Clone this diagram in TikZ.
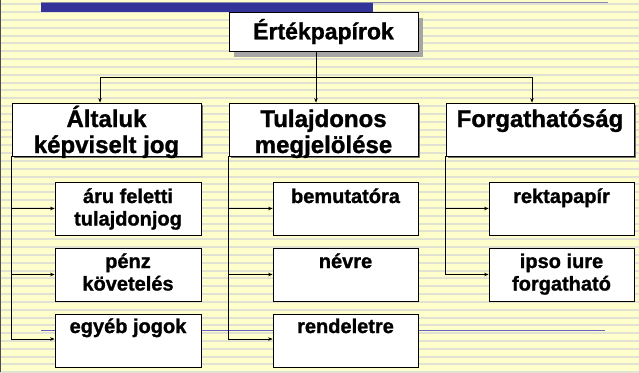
\documentclass[tikz,border=0pt]{standalone}
\usepackage{fontspec}
\setmainfont{Liberation Sans}[BoldFeatures={FakeBold=1.2}]
\usepackage{tikz}
\usetikzlibrary{arrows.meta,shadows,calc}

\definecolor{paper}{RGB}{255,255,204}
\definecolor{stripe}{RGB}{226,226,212}
\definecolor{barblue}{RGB}{51,51,153}
\definecolor{lineblue}{RGB}{100,100,190}
\definecolor{thinblue}{RGB}{140,140,175}

% text inside a box: centred, hanging from the top
\newcommand{\toptext}[4]{\parbox[c][#1][t]{#2}{\centering\rule{0pt}{#3}#4}}

\begin{document}
\begin{tikzpicture}[
                    x=1pt, y=-1pt,
                    every node/.style={
                        draw=black,
                        fill=white,
                        rectangle,
                        inner sep=0pt,
                        line width=0.8pt,
                        font=\bfseries
                    },
                    headbox/.style={
                        minimum width=189pt,
                        minimum height=39pt,
                        font=\fontsize{23}{26}\selectfont\bfseries,
                        general shadow={fill=black!35, shadow xshift=5pt, shadow yshift=-6pt}
                    },
                    groupbox/.style={
                        general shadow={fill=black!55, shadow xshift=1.6pt, shadow yshift=-1.6pt},
                        font=\fontsize{24}{26}\selectfont\bfseries
                    },
                    itembox/.style={
                        general shadow={fill=black!45, shadow xshift=1.2pt, shadow yshift=-1.2pt},
                        font=\fontsize{20}{22.5}\selectfont\bfseries
                    },
                    conn/.style={draw=black, line width=0.6pt},
                    arr/.style={conn, -{Stealth[length=4.5pt,width=3.5pt]}}
                ]

                    % Background
                    \useasboundingbox (0,0) rectangle (639,372);
                    \fill[paper] (0,0) rectangle (639,372);
                    \foreach \k in {0,...,47}
                        \fill[stripe] (0,{3.3+7.83*\k}) rectangle (639,{5.3+7.83*\k});
                    \draw[black!70, line width=1.2pt] (0.6,0) -- (0.6,372);
                    \fill[barblue] (41,3.2) rectangle (373,12);
                    \draw[thinblue, line width=1.2pt] (41,2.8) -- (608,2.8);
                    \draw[lineblue, line width=0.8pt] (41,330) -- (605,330);

                    % Boxes
                    \node[headbox] (top) at (323.5,31.5) {Értékpapírok};

                    \node[groupbox] (jog) at (106.5,129.5)
                        {\toptext{53pt}{189pt}{24pt}{Általuk\\képviselt jog}};
                    \node[groupbox] (tul) at (323.5,129.5)
                        {\toptext{53pt}{189pt}{24pt}{Tulajdonos\\megjelölése}};
                    \node[groupbox] (forg) at (540,129.5)
                        {\toptext{53pt}{188pt}{24pt}{Forgathatóság}};

                    \node[itembox] (aru) at (128,208.5)
                        {\toptext{53pt}{146pt}{21pt}{áru feletti\\tulajdonjog}};
                    \node[itembox] (penz) at (128,274.5)
                        {\toptext{53pt}{146pt}{20pt}{pénz\\követelés}};
                    \node[itembox] (egyeb) at (128,340.5)
                        {\toptext{53pt}{146pt}{19pt}{egyéb jogok}};

                    \node[itembox] (bem) at (345.5,208.5)
                        {\toptext{53pt}{145pt}{21pt}{bemutatóra}};
                    \node[itembox] (nev) at (345.5,274.5)
                        {\toptext{53pt}{145pt}{20pt}{névre}};
                    \node[itembox] (rend) at (345.5,340.5)
                        {\toptext{53pt}{145pt}{19pt}{rendeletre}};

                    \node[itembox] (rekta) at (561.5,208.5)
                        {\toptext{53pt}{145pt}{21pt}{rektapapír}};
                    \node[itembox] (ipso) at (561.5,274.5)
                        {\toptext{53pt}{145pt}{20pt}{ipso iure\\forgatható}};

                    % Edges
                    \draw[conn] ([xshift=-7.5pt]top.south) -- ++(0,26) coordinate (bus);
                    \draw[arr] (bus) -| ([xshift=-6.5pt]jog.north);
                    \draw[arr] (bus) -- ([xshift=-7.5pt]tul.north);
                    \draw[arr] (bus) -| ([xshift=-8pt]forg.north);

                    \draw[arr] (jog.south west) |- (aru.west);
                    \draw[arr] (jog.south west) |- (penz.west);
                    \draw[arr] (jog.south west) |- ([yshift=1.5pt]egyeb.west);
                    \draw[arr] (tul.south west) |- (bem.west);
                    \draw[arr] (tul.south west) |- (nev.west);
                    \draw[arr] (tul.south west) |- ([yshift=1.5pt]rend.west);
                    \draw[arr] (forg.south west) |- (rekta.west);
                    \draw[arr] (forg.south west) |- (ipso.west);
                \end{tikzpicture}
\end{document}
